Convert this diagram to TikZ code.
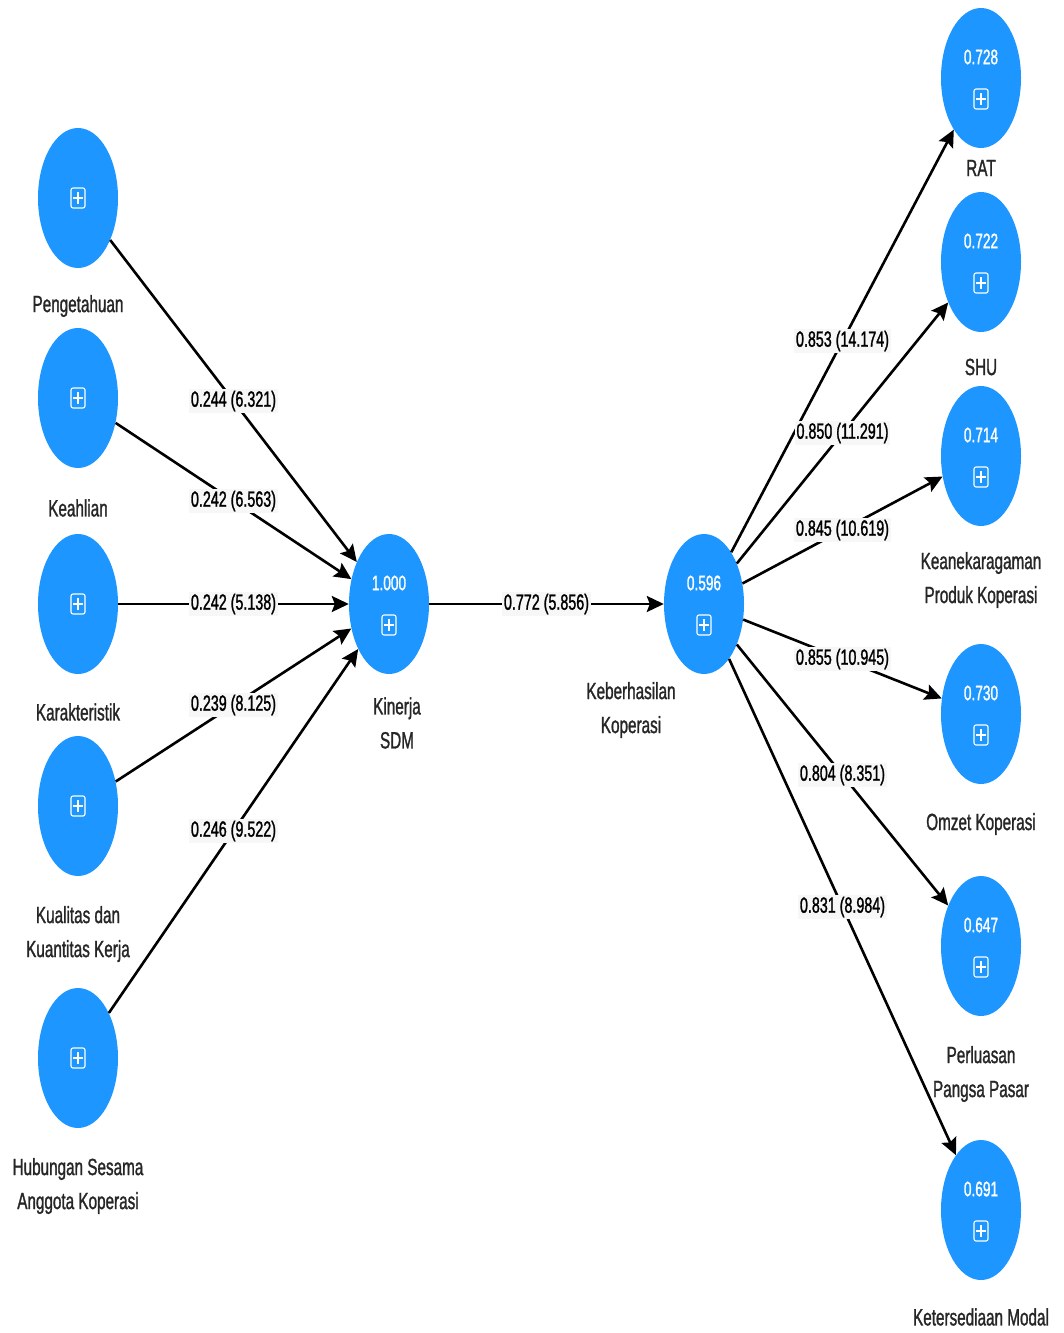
\documentclass[tikz,border=0pt]{standalone}
\usepackage{fontspec}
\setmainfont[FakeStretch=0.65,FakeBold=1.2]{Liberation Sans}
\usetikzlibrary{arrows.meta, positioning, shapes.geometric}
\definecolor{lvblue}{RGB}{30,150,255}
\tikzset{
    latent/.style={ellipse,fill=lvblue,minimum width=80pt,minimum height=140pt,inner sep=0pt},
    textnode/.style={align=center,text=black!85,font=\fontsize{23.5}{34}\selectfont},
    r2/.style={text=white,font=\fontsize{21}{22}\selectfont},
    coef/.style={fill=gray!6,text=black,inner sep=2pt,font=\fontsize{22}{23}\selectfont},
    link/.style={->,>={Stealth[length=17pt,width=16pt,inset=3pt]},line width=2.6pt,black},
    plusicon/.pic={
        \draw[white,line width=1.1pt,rounded corners=2pt] (-7,-10) rectangle (7,10);
        \draw[white,line width=1.1pt] (-5,0) -- (5,0) (0,-6) -- (0,6);}}
\begin{document}
\begin{tikzpicture}[x=1pt,y=-1pt]
\useasboundingbox (0,0) rectangle (1064,1333);

% exogenous constructs
\node[latent] (peng) at (78,198) {};
\node[latent] (keah) at (78,398) {};
\node[latent] (kara) at (78,604) {};
\node[latent] (kual) at (78,806) {};
\node[latent] (hubu) at (78,1058) {};
\foreach \n in {peng,keah,kara,kual,hubu}
    \pic at (\n.center) {plusicon};

% endogenous constructs
\node[latent] (kin) at (389,604) {};
\node[latent] (keb) at (704,604) {};
\node[latent] (rat) at (981,78) {};
\node[latent] (shu) at (981,262) {};
\node[latent] (prod) at (981,456) {};
\node[latent] (omz) at (981,714) {};
\node[latent] (pasar) at (981,946) {};
\node[latent] (modal) at (981,1210) {};
\foreach \n/\v in {kin/1.000,keb/0.596,rat/0.728,shu/0.722,prod/0.714,omz/0.730,pasar/0.647,modal/0.691}{
    \node[r2] (\n v) at ([yshift=21pt]\n.center) {\v};
    \pic at ([yshift=-21pt]\n.center) {plusicon};
}

% construct names
\node[textnode] (pengt) at (78,306) {Pengetahuan};
\node[textnode] (keaht) at (78,508) {Keahlian};
\node[textnode] (karat) at (78,712) {Karakteristik};
\node[textnode] (kualt) at (78,934) {Kualitas dan\\Kuantitas Kerja};
\node[textnode] (hubut) at (78,1186) {Hubungan Sesama\\Anggota Koperasi};
\node[textnode] (kint) at (397,723) {Kinerja\\SDM};
\node[textnode] (kebt) at (631,710) {Keberhasilan\\Koperasi};
\node[textnode] (ratt) at (981,168) {RAT};
\node[textnode] (shut) at (981,367) {SHU};
\node[textnode] (prodt) at (981,580) {Keanekaragaman\\Produk Koperasi};
\node[textnode] (omzt) at (981,824) {Omzet Koperasi};
\node[textnode] (pasart) at (981,1074) {Perluasan\\Pangsa Pasar};
\node[textnode] (modalt) at (981,1317) {Ketersediaan Modal};

\path[link]
    (peng)  edge node[coef] {0.244 (6.321)}  (kin)
    (keah)  edge node[coef] {0.242 (6.563)}  (kin)
    (kara)  edge node[coef] {0.242 (5.138)}  (kin)
    (kual)  edge node[coef] {0.239 (8.125)}  (kin)
    (hubu)  edge node[coef] {0.246 (9.522)}  (kin)
    (kin)   edge node[coef] {0.772 (5.856)}  (keb)
    (keb)   edge node[coef] {0.853 (14.174)} (rat)
    (keb)   edge node[coef] {0.850 (11.291)} (shu)
    (keb)   edge node[coef] {0.845 (10.619)} (prod)
    (keb)   edge node[coef] {0.855 (10.945)} (omz)
    (keb)   edge node[coef] {0.804 (8.351)}  (pasar)
    (keb)   edge node[coef] {0.831 (8.984)}  (modal);
\end{tikzpicture}
\end{document}
